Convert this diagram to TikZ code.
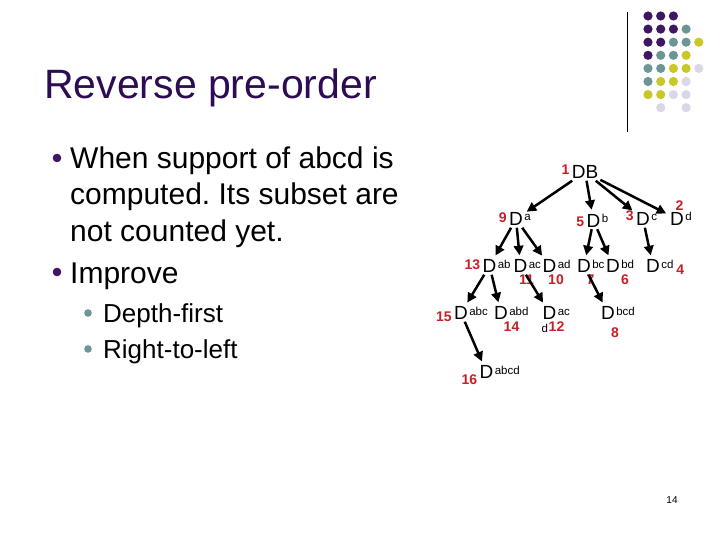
\documentclass[tikz,border=0pt]{standalone}
\usepackage{fontspec}
\setmainfont{Liberation Sans}
\usetikzlibrary{arrows.meta,positioning}
\definecolor{titlepurple}{RGB}{45,12,85}
\definecolor{dotpurple}{RGB}{62,22,98}
\definecolor{dotteal}{RGB}{108,150,150}
\definecolor{dotyellow}{RGB}{200,200,40}
\definecolor{dotlav}{RGB}{216,216,232}
\definecolor{numred}{RGB}{200,30,40}
\frenchspacing

\begin{document}
\begin{tikzpicture}[
  x=1pt, y=-1pt,
  title/.style={font=\fontsize{41}{41}\selectfont, text=titlepurple,
                anchor=base west, inner sep=0pt},
  item/.style={font=\fontsize{30}{36}\selectfont, anchor=base west, inner sep=0pt},
  subitem/.style={font=\fontsize{26}{32}\selectfont, anchor=base west, inner sep=0pt},
  dnode/.style={font=\fontsize{19}{19}\selectfont, inner sep=2pt},
  sup/.style={font=\fontsize{11.5}{11.5}\selectfont, inner sep=0.5pt, anchor=base west,
              xshift=-1.5pt, yshift=-2pt},
  num/.style={font=\fontsize{14}{14}\selectfont\bfseries, text=numred, inner sep=0pt},
  edge/.style={line width=2.5pt, -{Triangle[length=9.5pt,width=9.5pt]}, shorten >=2pt}
]
\fill[white] (0,0) rectangle (720,540);
\useasboundingbox (0,0) rectangle (720,540);

% Corner decoration
\draw[line width=1pt] (627,12) -- (627,132);
\foreach \col/\row/\clr in {
  0/0/dotpurple, 1/0/dotpurple, 2/0/dotpurple,
  0/1/dotpurple, 1/1/dotpurple, 2/1/dotpurple, 3/1/dotteal,
  0/2/dotpurple, 1/2/dotpurple, 2/2/dotteal, 3/2/dotteal, 4/2/dotyellow,
  0/3/dotpurple, 1/3/dotteal, 2/3/dotteal, 3/3/dotyellow,
  0/4/dotteal, 1/4/dotteal, 2/4/dotyellow, 3/4/dotyellow, 4/4/dotlav,
  0/5/dotteal, 1/5/dotyellow, 2/5/dotyellow, 3/5/dotlav,
  0/6/dotyellow, 1/6/dotyellow, 2/6/dotlav, 3/6/dotlav,
  1/7/dotlav, 3/7/dotlav} {
  \fill[\clr] (648+12.7*\col, 16+13.1*\row) circle (4.6);
}

% Title and bullet text
\node[title] (title) at (44,99) {Reverse pre-order};

\fill[dotpurple] (57,158) circle (4.3);
\node[item] (line1) at (70,169) {When support of abcd is};
\node[item] (line2) at (70,205) {computed. Its subset are};
\node[item] (line3) at (70,241) {not counted yet.};
\fill[dotpurple] (57,272) circle (4.3);
\node[item] (line4) at (70,283) {Improve};

\fill[dotteal] (88,313) circle (3.8);
\node[subitem] (sub1) at (103,322) {Depth-first};
\fill[dotteal] (88,349) circle (3.8);
\node[subitem] (sub2) at (103,358) {Right-to-left};

% Search tree
\node[dnode] (root) at (585,172) {DB};
\node[num, anchor=east, yshift=2pt] (n1) at (root.west) {1};

\node[dnode, label={[sup]east:a}, label={[num, yshift=1.5pt]west:9}] (da) at (516,219) {D};
\node[dnode, label={[sup]east:b}, label={[num, yshift=-1.5pt]west:5}] (db) at (593.5,220.5) {D};
\node[dnode, label={[sup]east:c}, label={[num, yshift=3pt]west:3}] (dc) at (643,219) {D};
\node[dnode, label={[sup]east:d}, label={[num, xshift=2.5pt]north:2}] (dd) at (677,219) {D};

\node[dnode, label={[sup]east:ab}, label={[num, yshift=1.5pt]west:13}] (dab) at (489.5,266) {D};
\node[dnode, label={[sup]east:ac}, label={[num, xshift=6pt]south:11}] (dac) at (520.5,266) {D};
\node[dnode, label={[sup]east:ad}, label={[num, xshift=6.5pt]south:10}] (dad) at (549.5,266) {D};
\node[dnode, label={[sup]east:bc}, label={[num, xshift=6.5pt]south:7}] (dbc) at (584,266) {D};
\node[dnode, label={[sup]east:bd}, label={[num, xshift=12pt]south:6}] (dbd) at (613,266) {D};
\node[dnode, label={[sup]east:cd},
      label={[num, anchor=west, xshift=14pt, yshift=-4pt]east:4}] (dcd) at (653,266) {D};

\node[dnode, label={[sup]east:abc}, label={[num, yshift=-4pt]west:15}] (dabc) at (461,313) {D};
\node[dnode, label={[sup]east:abd}, label={[num, xshift=10.5pt]south:14}] (dabd) at (501,313) {D};
\node[dnode, label={[sup]east:ac},
      label={[sup, anchor=north west, xshift=2pt, yshift=0pt]south west:d},
      label={[num, xshift=7pt]south:12}] (dacd) at (549.5,313) {D};
\node[dnode, label={[sup]east:bcd}, label={[num, xshift=7pt, yshift=-5.5pt]south:8}] (dbcd) at (608,313) {D};

\node[dnode, label={[sup]east:abcd}, label={[num, yshift=-8pt]west:16}] (dabcd) at (486.5,372) {D};

\draw[edge] (root) -- (da);
\draw[edge] (root) -- (db);
\draw[edge] (root) -- (dc);
\draw[edge] (root) -- (dd);
\draw[edge] (da) -- (dab);
\draw[edge] (da) -- (dac);
\draw[edge] (da) -- (dad);
\draw[edge] (db) -- (dbc);
\draw[edge] (db) -- (dbd);
\draw[edge] (dc) -- (dcd);
\draw[edge] (dab) -- (dabc);
\draw[edge] (dab) -- (dabd);
\draw[edge] (dac) -- (dacd);
\draw[edge] (dbc) -- (dbcd);
\draw[edge] (dabc) -- (dabcd);

% Page number
\node[font=\fontsize{10}{10}\selectfont] (page) at (672,500) {14};

\end{tikzpicture}
\end{document}
